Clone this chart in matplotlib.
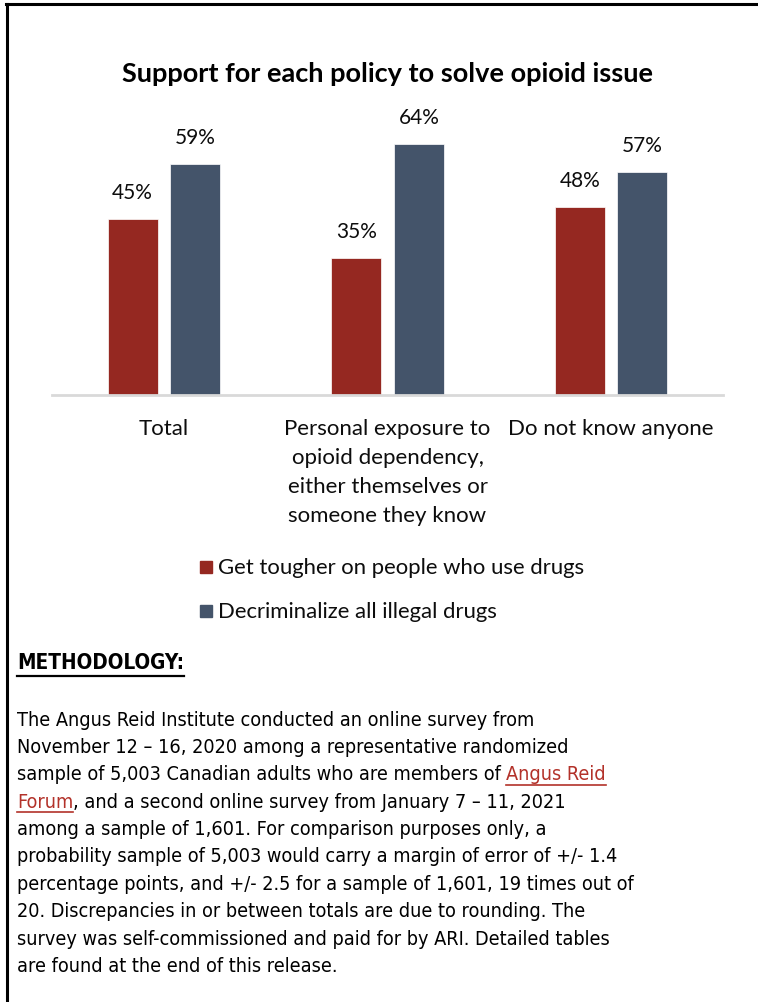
import matplotlib
matplotlib.use("Agg")
import matplotlib.pyplot as plt
from matplotlib import font_manager as fm
import numpy as np

categories = ["Total",
              "Personal exposure to\nopioid dependency,\neither themselves or\nsomeone they know",
              "Do not know anyone"]
series_names = ["Get tougher on people who use drugs", "Decriminalize all illegal drugs"]
tougher = [45, 35, 48]
decrim = [59, 64, 57]
colors = ["#952821", "#44546A"]

title = "Support for each policy to solve opioid issue"
method_lines = [
    "The Angus Reid Institute conducted an online survey from",
    "November 12 \u2013 16, 2020 among a representative randomized",
    "sample of 5,003 Canadian adults who are members of |Angus Reid|",
    "|Forum|, and a second online survey from January 7 \u2013 11, 2021",
    "among a sample of 1,601. For comparison purposes only, a",
    "probability sample of 5,003 would carry a margin of error of +/- 1.4",
    "percentage points, and +/- 2.5 for a sample of 1,601, 19 times out of",
    "20. Discrepancies in or between totals are due to rounding. The",
    "survey was self-commissioned and paid for by ARI. Detailed tables",
    "are found at the end of this release.",
]

names = {f.name for f in fm.fontManager.ttflist}
stretch_kw = {}
if "Liberation Sans Narrow" in names:
    narrow = "Liberation Sans Narrow"
    extra = 1.0
elif "DejaVu Sans Condensed" in names:
    narrow = "DejaVu Sans Condensed"
    extra = 1.22
elif any(f.name == "DejaVu Sans" and f.stretch != "normal" for f in fm.fontManager.ttflist):
    narrow = "DejaVu Sans"
    stretch_kw = {"fontstretch": "condensed"}
    extra = 1.22
else:
    narrow = "Liberation Sans"
    extra = 1.15
chart_font = "Lato"

W, H = 758, 1003
fig = plt.figure(figsize=(W / 100, H / 100), dpi=100)
renderer = fig.canvas.get_renderer()

def fx(px):
    return px / W

def fy(py):
    return 1 - py / H

def fit_size(text, target_px, **kw):
    t = fig.text(0, 0, text, fontsize=10, **kw)
    w = t.get_window_extent(renderer).width
    t.remove()
    return 10 * target_px / w

# border lines
fig.add_artist(plt.Line2D([fx(7), fx(7)], [fy(5), 0], color="black", lw=2.2, transform=fig.transFigure))
fig.add_artist(plt.Line2D([fx(6), 1], [fy(5), fy(5)], color="black", lw=2.2, transform=fig.transFigure))

ax = fig.add_axes([fx(52), fy(396), fx(723) - fx(52), (396 - 122) / H])
x = np.arange(len(categories))
bw = 0.2235
off = 0.14
b1 = ax.bar(x - off, tougher, bw, color=colors[0], edgecolor="white", linewidth=0.5, label=series_names[0])
b2 = ax.bar(x + off, decrim, bw, color=colors[1], edgecolor="white", linewidth=0.5, label=series_names[1])
ax.set_xlim(-0.5, 2.5)
ax.set_ylim(0, 70)
for s in ["top", "right", "left"]:
    ax.spines[s].set_visible(False)
ax.spines["bottom"].set_color("#D9D9D9")
ax.spines["bottom"].set_linewidth(2)
ax.set_yticks([])
ax.set_xticks(x)
ax.set_xticklabels(categories, fontsize=16, fontfamily=chart_font, color="#0D0D0D", linespacing=1.56)
ax.tick_params(axis="x", length=0, pad=16.5)
for bars in (b1, b2):
    for r in bars:
        ax.annotate(f"{int(r.get_height())}%", (r.get_x() + r.get_width() / 2, r.get_height()),
                    xytext=(0, 19.5), textcoords="offset points", ha="center", va="center",
                    fontsize=15, fontfamily=chart_font, color="#0D0D0D")

fig.text(fx(388), fy(74), title, ha="center", va="center", fontsize=19.5,
         fontweight="bold", fontfamily=chart_font, color="black")

# legend
for i, (name, c) in enumerate(zip(series_names, colors)):
    yc = 568 + 44 * i
    fig.add_artist(plt.Rectangle((fx(200), fy(yc + 6)), fx(12), 12 / H, color=c, transform=fig.transFigure))
    fig.text(fx(218), fy(yc), name, ha="left", va="center", fontsize=15.9, fontfamily=chart_font,
             color="#0D0D0D")

# methodology
hsize = fit_size("METHODOLOGY:", 137, fontweight="bold", fontfamily=narrow, **stretch_kw) * extra
mt = fig.text(fx(17), fy(663), "METHODOLOGY:", ha="left", va="center", fontsize=hsize,
              fontweight="bold", fontfamily=narrow, color="black", **stretch_kw)
bb = mt.get_window_extent(renderer)
fig.add_artist(plt.Line2D([bb.x0 / W, bb.x1 / W], [fy(677), fy(677)], color="black", lw=1.6,
                          transform=fig.transFigure))

bsize = fit_size(method_lines[0], 424, fontfamily=narrow, **stretch_kw) * extra
link_color = "#B3322A"
for i, line in enumerate(method_lines):
    yc = 720 + 27.4 * i
    parts = line.split("|")
    xpos = 17
    for j, part in enumerate(parts):
        if not part:
            continue
        is_link = j % 2 == 1
        t = fig.text(fx(xpos), fy(yc), part, ha="left", va="center", fontsize=bsize,
                     fontfamily=narrow, color=link_color if is_link else "black", **stretch_kw)
        b = t.get_window_extent(renderer)
        if is_link:
            fig.add_artist(plt.Line2D([b.x0 / W, b.x1 / W], [fy(yc + 11), fy(yc + 11)],
                                      color=link_color, lw=1.2, transform=fig.transFigure))
        xpos = b.x1

fig.savefig("out.png", dpi=100)
